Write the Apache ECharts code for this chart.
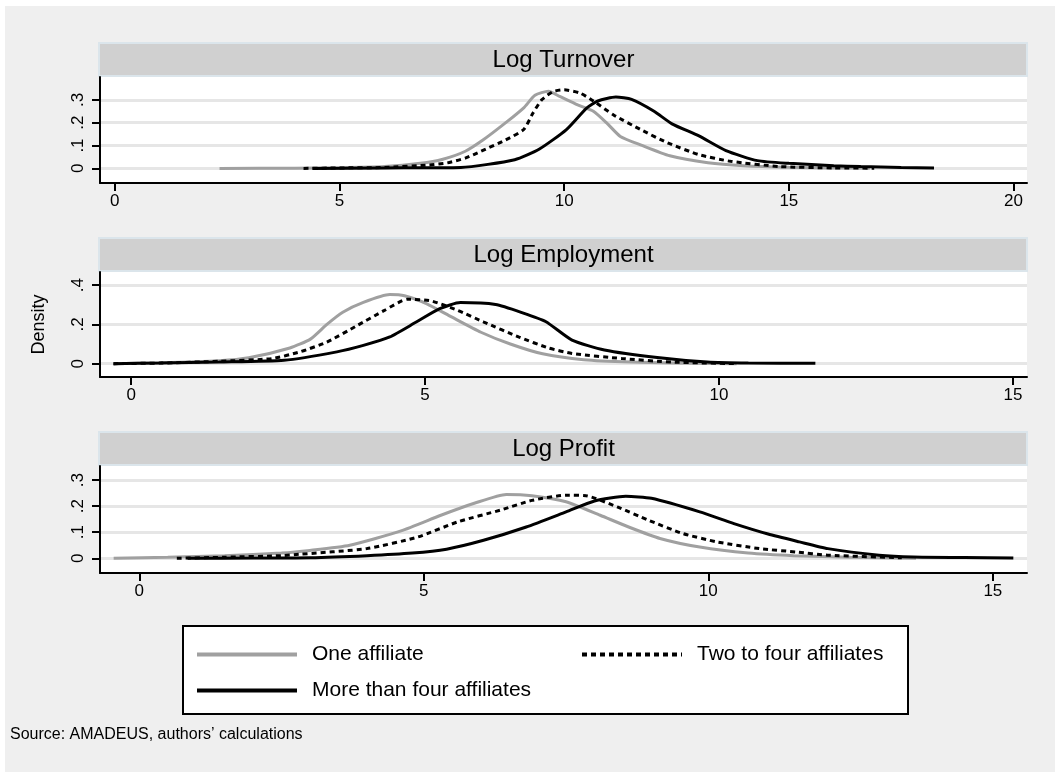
<!DOCTYPE html>
<html><head><meta charset="utf-8">
<script src="https://cdn.jsdelivr.net/npm/echarts@6/dist/echarts.min.js"></script>
<style>html,body{margin:0;padding:0;background:#fff}#c{width:1055px;height:772px}</style>
</head><body><div id="c"></div>
<script>
// ---------- DATA ----------
const panelTitles = ['Log Turnover', 'Log Employment', 'Log Profit'];
const seriesNames = ['One affiliate', 'Two to four affiliates', 'More than four affiliates'];
const sourceNote = 'Source: AMADEUS, authors\u2019 calculations';
const yAxisName = 'Density';

const turnoverXTicks = [0, 5, 10, 15, 20];
const employmentXTicks = [0, 5, 10, 15];
const profitXTicks = [0, 5, 10, 15];
const turnoverYTicks = [0, 0.1, 0.2, 0.3];
const employmentYTicks = [0, 0.2, 0.4];
const profitYTicks = [0, 0.1, 0.2, 0.3];

const turnoverOne = [[2.33,0],[4,0.001],[5,0.003],[6,0.008],[6.8,0.022],[7.3,0.04],[7.8,0.075],[8.2,0.125],[8.7,0.2],[9.1,0.265],[9.35,0.32],[9.65,0.338],[9.9,0.315],[10.3,0.278],[10.65,0.25],[10.95,0.198],[11.25,0.14],[11.7,0.103],[12.35,0.055],[13.2,0.025],[14,0.012],[15,0.005],[16,0.002],[16.8,0.001]];
const turnoverTwoFour = [[4.2,0],[5,0.002],[6,0.004],[7,0.015],[7.4,0.024],[7.8,0.045],[8.15,0.075],[8.7,0.125],[9.1,0.17],[9.3,0.24],[9.5,0.3],[9.75,0.336],[10,0.344],[10.35,0.33],[10.65,0.295],[11.1,0.234],[11.7,0.17],[12.3,0.112],[13,0.06],[13.7,0.031],[14.8,0.008],[16,0.002],[16.9,0.001]];
const turnoverMore = [[4.4,0],[6,0.002],[7.7,0.004],[8.9,0.038],[9.45,0.085],[10.05,0.17],[10.5,0.264],[10.75,0.295],[11.15,0.312],[11.5,0.302],[12,0.25],[12.4,0.195],[13,0.142],[13.6,0.078],[14.3,0.034],[15,0.022],[16,0.012],[16.6,0.008],[17.5,0.004],[18.23,0.002]];

const employmentOne = [[-0.3,0],[0.5,0.004],[1.5,0.015],[2,0.03],[2.7,0.08],[3.05,0.125],[3.33,0.2],[3.6,0.262],[3.95,0.312],[4.4,0.352],[4.65,0.346],[5.03,0.305],[5.45,0.238],[5.95,0.16],[6.45,0.1],[7,0.05],[7.7,0.02],[8.5,0.008],[9.5,0.002],[10.3,0]];
const employmentTwoFour = [[-0.3,0],[0.5,0.003],[1.5,0.012],[2.4,0.026],[2.87,0.06],[3.33,0.11],[3.85,0.195],[4.3,0.27],[4.7,0.328],[5.1,0.32],[5.55,0.272],[6,0.212],[6.6,0.135],[7.1,0.08],[7.5,0.052],[8.35,0.026],[9.2,0.008],[10.3,0]];
const employmentMore = [[-0.3,0],[0.5,0.003],[1.5,0.008],[2.6,0.017],[3.5,0.06],[3.95,0.093],[4.4,0.136],[4.85,0.212],[5.25,0.28],[5.6,0.311],[6.2,0.301],[6.65,0.26],[7.05,0.215],[7.5,0.12],[8.05,0.07],[8.95,0.031],[9.8,0.008],[10.5,0.003],[11.64,0.002]];

const profitOne = [[-0.45,0],[0.5,0.004],[1.5,0.01],[2.5,0.02],[3,0.03],[3.7,0.05],[4.6,0.105],[5.3,0.165],[5.9,0.212],[6.45,0.245],[6.9,0.24],[7.5,0.217],[8.1,0.165],[8.6,0.12],[9.15,0.076],[9.85,0.043],[10.7,0.02],[11.5,0.01],[12.5,0.004],[13.65,0]];
const profitTwoFour = [[0.66,0],[1.5,0.004],[2.5,0.01],[2.8,0.015],[4,0.037],[4.9,0.082],[5.6,0.14],[6.35,0.185],[6.9,0.222],[7.5,0.242],[7.85,0.24],[8.4,0.197],[8.95,0.146],[9.55,0.095],[10.15,0.063],[10.9,0.037],[11.55,0.024],[12.1,0.012],[13.4,0.002]];
const profitMore = [[0.85,0],[2,0.001],[3,0.002],[4,0.01],[4.8,0.02],[5.4,0.035],[6.05,0.069],[6.8,0.12],[7.5,0.178],[8,0.22],[8.55,0.238],[9,0.23],[9.85,0.178],[10.45,0.133],[11.05,0.093],[11.6,0.063],[12.1,0.037],[13,0.012],[13.6,0.005],[14.5,0.003],[15.36,0.001]];

// ---------- LAYOUT / STYLE ----------
const FONT = '"Liberation Sans", Arial, Helvetica, sans-serif';
const panels = [
  { top: 77,  height: 106, xMin: -0.33, xMax: 20.3,  yMin: -0.064, yMax: 0.40,  xTicks: turnoverXTicks,   yTicks: turnoverYTicks,   data: [turnoverOne, turnoverTwoFour, turnoverMore] },
  { top: 272, height: 105, xMin: -0.53, xMax: 15.24, yMin: -0.068, yMax: 0.467, xTicks: employmentXTicks, yTicks: employmentYTicks, data: [employmentOne, employmentTwoFour, employmentMore] },
  { top: 466, height: 107, xMin: -0.69, xMax: 15.6,  yMin: -0.0565, yMax: 0.354, xTicks: profitXTicks,    yTicks: profitYTicks,     data: [profitOne, profitTwoFour, profitMore] }
];
const LEFT = 100, WIDTH = 927;
const lineStyles = [
  { color: '#a0a0a0', width: 3, type: 'solid' },
  { color: '#000000', width: 3, type: [5, 4] },
  { color: '#000000', width: 3, type: 'solid' }
];
const yFmt = v => v === 0 ? '0' : String(v).replace(/^0\./, '.');

const grid = [], xAxis = [], yAxis = [], series = [], graphic = [];
graphic.push({ type: 'rect', z: -10, shape: { x: 5, y: 6, width: 1050, height: 766 }, style: { fill: '#efefef' }, silent: true });

panels.forEach((p, i) => {
  grid.push({ left: LEFT, top: p.top, width: WIDTH, height: p.height, show: true, backgroundColor: '#ffffff', borderWidth: 0, containLabel: false, outerBoundsMode: 'none' });
  xAxis.push({
    type: 'value', gridIndex: i, min: p.xMin, max: p.xMax,
    axisLine: { show: true, onZero: false, lineStyle: { color: '#000', width: 2 } },
    axisTick: { show: true, length: 8, customValues: p.xTicks, lineStyle: { color: '#000', width: 2 } },
    axisLabel: { customValues: p.xTicks, margin: 10, fontSize: 17, color: '#000', fontFamily: FONT },
    splitLine: { show: false }
  });
  yAxis.push({
    type: 'value', gridIndex: i, min: p.yMin, max: p.yMax,
    name: i === 1 ? yAxisName : '', nameLocation: 'middle', nameGap: 52, nameRotate: 90,
    nameTextStyle: { fontSize: 18, color: '#000', fontFamily: FONT },
    axisLine: { show: true, onZero: false, lineStyle: { color: '#000', width: 2 } },
    axisTick: { show: true, length: 8, customValues: p.yTicks, lineStyle: { color: '#000', width: 2 } },
    axisLabel: { customValues: p.yTicks, rotate: 90, margin: 13, fontSize: 17, color: '#000', fontFamily: FONT, formatter: yFmt },
    splitLine: { show: true, lineStyle: { color: '#e6e6e6', width: 3 } }
  });
  p.data.forEach((d, k) => {
    series.push({
      type: 'line', name: seriesNames[k], xAxisIndex: i, yAxisIndex: i,
      data: d, showSymbol: false, symbol: 'none', smooth: 0.2, z: 2 + k,
      lineStyle: lineStyles[k], itemStyle: { color: lineStyles[k].color }, silent: true
    });
  });
  // panel header strip
  graphic.push({ type: 'rect', silent: true, shape: { x: LEFT - 1, y: p.top - 34, width: WIDTH + 1, height: 33 }, style: { fill: '#d0d0d0', stroke: '#dbe5eb', lineWidth: 2 } });
  graphic.push({ type: 'text', silent: true, x: LEFT + WIDTH / 2, y: p.top - 17, style: { text: panelTitles[i], fill: '#000', font: '24px ' + FONT, textAlign: 'center', textVerticalAlign: 'middle' } });
});

// legend box and source note
graphic.push({ type: 'rect', silent: true, z: 50, shape: { x: 183, y: 626, width: 725, height: 88 }, style: { fill: '#ffffff', stroke: '#000', lineWidth: 2 } });
graphic.push({ type: 'text', silent: true, x: 10, y: 735, style: { text: sourceNote, fill: '#000', font: '16px ' + FONT, textVerticalAlign: 'middle' } });

const legendBase = { orient: 'horizontal', padding: 0, itemWidth: 100, itemHeight: 14, z: 60,
  itemStyle: { opacity: 0 },
  textStyle: { fontSize: 21, color: '#000', fontFamily: FONT, padding: [0, 0, 0, 10] }, selectedMode: false };
const legend = [
  Object.assign({}, legendBase, { left: 195, top: 644, data: [seriesNames[0]], lineStyle: { width: 4 } }),
  Object.assign({}, legendBase, { left: 580, top: 644, data: [seriesNames[1]], lineStyle: { width: 4 } }),
  Object.assign({}, legendBase, { left: 195, top: 680, data: [seriesNames[2]], lineStyle: { width: 4 } })
];

const chart = echarts.init(document.getElementById('c'), null, { renderer: 'canvas' });
chart.setOption({
  backgroundColor: '#ffffff', animation: false,
  grid, xAxis, yAxis, series, legend, graphic
});
</script></body></html>
